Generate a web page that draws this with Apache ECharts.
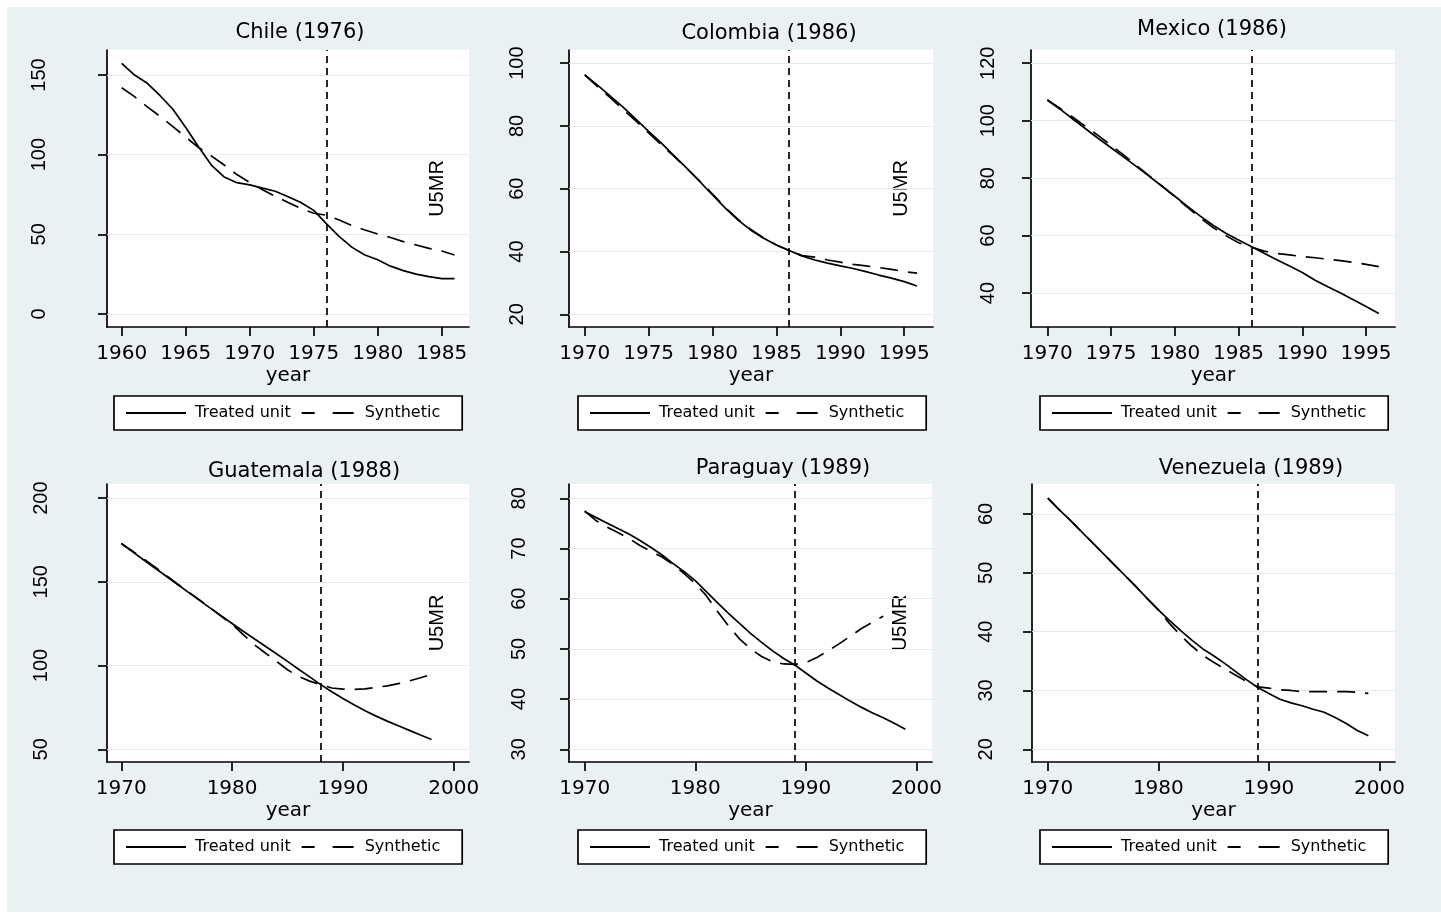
<!DOCTYPE html>
<html>
<head>
<meta charset="utf-8">
<title>U5MR: treated unit vs synthetic control</title>
<script src="https://cdn.jsdelivr.net/npm/echarts@6/dist/echarts.min.js"></script>
<style>
  html, body { margin: 0; padding: 0; background: #fff; }
  #wrap { position: relative; width: 1441px; height: 916px; }
  #bg { position: absolute; left: 7px; top: 7px; width: 1434px; height: 905px; background: #eaf1f3; }
  #chart { position: absolute; left: 0; top: 0; width: 1441px; height: 916px; }
</style>
</head>
<body>
<div id="wrap">
  <div id="bg"></div>
  <div id="chart"></div>
</div>
<script>
// panels in reading order
const countries = ['Chile', 'Colombia', 'Mexico', 'Guatemala', 'Paraguay', 'Venezuela']
const treatmentYears = [1976, 1986, 1986, 1988, 1989, 1989]

const chileYears = [1960, 1961, 1962, 1963, 1964, 1965, 1966, 1967, 1968, 1969, 1970, 1971, 1972, 1973,
  1974, 1975, 1976, 1977, 1978, 1979, 1980, 1981, 1982, 1983, 1984, 1985, 1986]
const chileTreated = [157.3, 150, 144.8, 137, 128.5, 117, 105, 93.5, 86, 82.4, 81, 79, 77, 73.6,
  70, 65, 56.5, 48.5, 41.8, 37, 34, 30, 27.2, 25, 23.4, 22.2, 22.2]
const chileSynthetic = [142, 136.4, 130, 124, 117.6, 111, 104.5, 99.2, 93.5, 87.5, 82.5, 78, 73.8, 70,
  66.3, 63.2, 62, 59, 55.4, 52.7, 50.2, 48, 45.4, 43.3, 41.2, 39.5, 37]
const chileXTicks = [1960, 1965, 1970, 1975, 1980, 1985]
const chileYTicks = [0, 50, 100, 150]

const colombiaYears = [1970, 1971, 1972, 1973, 1974, 1975, 1976, 1977, 1978, 1979, 1980, 1981, 1982, 1983,
  1984, 1985, 1986, 1987, 1988, 1989, 1990, 1991, 1992, 1993, 1994, 1995, 1996]
const colombiaTreated = [96.3, 93, 89.5, 86, 82.2, 78.3, 74.5, 70.5, 66.5, 62.3, 58, 53.8, 50, 46.8,
  44.2, 42.1, 40.3, 38.6, 37.3, 36.3, 35.4, 34.6, 33.6, 32.5, 31.5, 30.4, 29]
const colombiaSynthetic = [96.3, 92.5, 89, 85.3, 81.6, 77.8, 74, 70.3, 66.4, 62.4, 58.3, 54, 50.2, 47,
  44.3, 42.1, 40.3, 38.7, 38.2, 37.3, 36.6, 35.9, 35.4, 34.9, 34.3, 33.6, 33.1]
const colombiaXTicks = [1970, 1975, 1980, 1985, 1990, 1995]
const colombiaYTicks = [20, 40, 60, 80, 100]

const mexicoYears = [1970, 1971, 1972, 1973, 1974, 1975, 1976, 1977, 1978, 1979, 1980, 1981, 1982, 1983,
  1984, 1985, 1986, 1987, 1988, 1989, 1990, 1991, 1992, 1993, 1994, 1995, 1996]
const mexicoTreated = [107.2, 104, 100.6, 97.2, 93.8, 90.6, 87.3, 84, 80.6, 77.2, 73.7, 70.2, 66.8, 63.6,
  60.8, 58.5, 56.2, 53.9, 51.6, 49.4, 47.2, 44.5, 42.2, 40, 37.7, 35.3, 32.9]
const mexicoSynthetic = [107.2, 104.3, 101.2, 98, 94.8, 91.4, 88, 84.4, 80.8, 77.2, 73.5, 69.8, 66.2, 62.8,
  60, 57.5, 56, 54.6, 53.8, 53.3, 52.7, 52.3, 51.8, 51.3, 50.7, 50, 49.2]
const mexicoXTicks = [1970, 1975, 1980, 1985, 1990, 1995]
const mexicoYTicks = [40, 60, 80, 100, 120]

const guatemalaYears = [1970, 1971, 1972, 1973, 1974, 1975, 1976, 1977, 1978, 1979, 1980, 1981, 1982, 1983,
  1984, 1985, 1986, 1987, 1988, 1989, 1990, 1991, 1992, 1993, 1994, 1995, 1996, 1997, 1998]
const guatemalaTreated = [172.9, 168, 163.2, 158.4, 153.6, 148.8, 144, 139.2, 134.4, 129.7, 125.1, 120.5, 116, 111.5,
  107, 102.5, 97.8, 93.2, 88.6, 84.4, 80.3, 76.6, 73, 69.8, 66.8, 64, 61.3, 58.5, 55.8]
const guatemalaSynthetic = [172.9, 168.4, 163.8, 159, 154, 149, 144.2, 139.5, 134.6, 129.6, 124.6, 118.5, 112.5, 107.5,
  102.5, 97.5, 93.5, 90.7, 88.6, 86.6, 85.9, 85.7, 86.1, 86.9, 87.9, 89.2, 90.8, 92.7, 94.7]
const guatemalaXTicks = [1970, 1980, 1990, 2000]
const guatemalaYTicks = [50, 100, 150, 200]

const paraguayYears = [1970, 1971, 1972, 1973, 1974, 1975, 1976, 1977, 1978, 1979, 1980, 1981, 1982, 1983,
  1984, 1985, 1986, 1987, 1988, 1989, 1990, 1991, 1992, 1993, 1994, 1995, 1996, 1997, 1998, 1999]
const paraguayTreated = [77.3, 76.2, 75.1, 74, 72.9, 71.6, 70.2, 68.7, 67, 65.4, 63.6, 61.4, 59.2, 57.1,
  55.1, 53.1, 51.3, 49.6, 48.1, 46.8, 45.2, 43.6, 42.2, 40.9, 39.6, 38.4, 37.3, 36.3, 35.2, 34]
// the synthetic line stops short of the U5MR label (last value read ~1997)
const paraguaySynthetic = [77.5, 75.6, 74.3, 73.2, 72, 70.6, 69.4, 68.3, 66.8, 65, 63, 60.6, 57.5, 54.6,
  52, 50, 48.5, 47.4, 47, 46.9, 47.3, 48.3, 49.6, 51, 52.5, 54, 55.3, 56.5]
const paraguayXTicks = [1970, 1980, 1990, 2000]
const paraguayYTicks = [30, 40, 50, 60, 70, 80]

const venezuelaYears = [1970, 1971, 1972, 1973, 1974, 1975, 1976, 1977, 1978, 1979, 1980, 1981, 1982, 1983,
  1984, 1985, 1986, 1987, 1988, 1989, 1990, 1991, 1992, 1993, 1994, 1995, 1996, 1997, 1998, 1999]
const venezuelaTreated = [62.7, 60.8, 59, 57.1, 55.2, 53.3, 51.4, 49.5, 47.6, 45.6, 43.7, 41.9, 40.2, 38.6,
  37.1, 35.9, 34.6, 33.2, 31.8, 30.5, 29.5, 28.5, 27.9, 27.4, 26.8, 26.3, 25.4, 24.4, 23.2, 22.3]
const venezuelaSynthetic = [62.7, 60.8, 59, 57.1, 55.2, 53.3, 51.4, 49.5, 47.6, 45.6, 43.7, 41.4, 39.4, 37.6,
  36, 34.8, 33.7, 32.6, 31.5, 30.6, 30.4, 30.1, 30, 29.8, 29.8, 29.8, 29.8, 29.8, 29.7, 29.5]
const venezuelaXTicks = [1970, 1980, 1990, 2000]
const venezuelaYTicks = [20, 30, 40, 50, 60]

const allYears = [chileYears, colombiaYears, mexicoYears, guatemalaYears, paraguayYears, venezuelaYears]
const allTreated = [chileTreated, colombiaTreated, mexicoTreated, guatemalaTreated, paraguayTreated, venezuelaTreated]
const allSynthetic = [chileSynthetic, colombiaSynthetic, mexicoSynthetic, guatemalaSynthetic, paraguaySynthetic, venezuelaSynthetic]
const allXTicks = [chileXTicks, colombiaXTicks, mexicoXTicks, guatemalaXTicks, paraguayXTicks, venezuelaXTicks]
const allYTicks = [chileYTicks, colombiaYTicks, mexicoYTicks, guatemalaYTicks, paraguayYTicks, venezuelaYTicks]

// layout of each panel: plot box, axis extents, label gap, title / legend spots
const layout = [
  { box: [107, 50, 362, 277], x: [1958.85, 1987.13], y: [-8.2, 165.7], yGap: 58, title: [300, 22], legend: [114, 396], u5mr: true },
  { box: [569, 50, 364, 277], x: [1968.77, 1997.25], y: [15.95, 104.2], yGap: 42, title: [769, 23], legend: [578, 396], u5mr: true },
  { box: [1031, 50, 364, 277], x: [1968.72, 1997.27], y: [28.2, 124.6], yGap: 33, title: [1212, 19], legend: [1040, 396], u5mr: false },
  { box: [107, 484, 362, 278], x: [1968.71, 2001.38], y: [42.4, 208.4], yGap: 56, title: [304, 461], legend: [114, 830], u5mr: true },
  { box: [569, 484, 363, 278], x: [1968.58, 2001.41], y: [27.47, 82.85], yGap: 40, title: [783, 458], legend: [578, 830], u5mr: true },
  { box: [1032, 484, 363, 278], x: [1968.57, 2001.41], y: [17.84, 65.1], yGap: 36, title: [1251, 458], legend: [1040, 830], u5mr: false }
]

const black = '#000'
const axisLineStyle = { color: black, width: 1.7 }
const plain = v => String(v)

const grids = []
const xAxes = []
const yAxes = []
const series = []
const titles = []
const legends = []
const graphics = []

countries.forEach((country, i) => {
  const L = layout[i]
  const [left, top, width, height] = L.box
  const years = allYears[i]

  grids.push({ left, top, width, height, show: true, backgroundColor: '#fff', borderWidth: 0 })

  xAxes.push({
    gridIndex: i,
    type: 'value',
    min: L.x[0],
    max: L.x[1],
    name: 'year',
    nameLocation: 'middle',
    nameGap: 39,
    nameTextStyle: { fontFamily: 'DejaVu Sans', fontSize: 20, color: black },
    axisLine: { show: true, onZero: false, lineStyle: axisLineStyle },
    axisTick: { show: true, customValues: allXTicks[i], length: 9, lineStyle: axisLineStyle },
    axisLabel: {
      customValues: allXTicks[i],
      formatter: plain,
      margin: 17,
      fontFamily: 'DejaVu Sans',
      fontSize: 20,
      color: black
    },
    splitLine: { show: false }
  })

  yAxes.push({
    gridIndex: i,
    type: 'value',
    min: L.y[0],
    max: L.y[1],
    axisLine: { show: true, onZero: false, lineStyle: axisLineStyle },
    axisTick: { show: true, customValues: allYTicks[i], length: 9, lineStyle: axisLineStyle },
    axisLabel: {
      customValues: allYTicks[i],
      formatter: plain,
      rotate: 90,
      margin: L.yGap,
      fontFamily: 'Liberation Sans',
      fontSize: 20,
      color: black
    },
    splitLine: { show: false }
  })

  // faint horizontal grid lines at the y ticks
  series.push({
    type: 'line',
    name: country + ' grid',
    xAxisIndex: i,
    yAxisIndex: i,
    data: [],
    silent: true,
    z: 1,
    markLine: {
      silent: true,
      symbol: 'none',
      z: 1,
      animation: false,
      label: { show: false },
      lineStyle: { color: '#e2ecef', width: 1.2, type: 'solid' },
      data: allYTicks[i].map(v => ({ yAxis: v }))
    }
  })

  series.push({
    type: 'line',
    name: 'Synthetic',
    xAxisIndex: i,
    yAxisIndex: i,
    symbol: 'none',
    itemStyle: { color: black },
    lineStyle: { color: black, width: 1.7, type: [18, 10] },
    data: allSynthetic[i].map((v, k) => [years[k], v])
  })

  series.push({
    type: 'line',
    name: 'Treated unit',
    xAxisIndex: i,
    yAxisIndex: i,
    symbol: 'none',
    itemStyle: { color: black },
    lineStyle: { color: black, width: 1.7 },
    data: allTreated[i].map((v, k) => [years[k], v]),
    markLine: {
      silent: true,
      symbol: 'none',
      animation: false,
      label: { show: false },
      lineStyle: { color: black, width: 1.7, type: [7, 5] },
      data: [{ xAxis: treatmentYears[i] }]
    }
  })

  titles.push({
    text: country + ' (' + treatmentYears[i] + ')',
    left: L.title[0],
    top: L.title[1],
    textAlign: 'center',
    padding: 0,
    textStyle: { fontFamily: 'DejaVu Sans', fontSize: 21, fontWeight: 'normal', color: black }
  })

  legends.push({
    left: L.legend[0],
    top: L.legend[1],
    orient: 'horizontal',
    itemWidth: 60,
    itemHeight: 14,
    itemGap: 4,
    padding: [9, 22, 9, 11],
    backgroundColor: '#fff',
    borderColor: black,
    borderWidth: 1.7,
    borderRadius: 0,
    selectedMode: false,
    itemStyle: { opacity: 0 },
    textStyle: { fontFamily: 'DejaVu Sans', fontSize: 16, color: black, padding: [0, 0, 0, 4] },
    data: [
      { name: 'Treated unit' },
      { name: 'Synthetic', lineStyle: { type: [0, 6, 13, 18, 21, 100] } }
    ]
  })

  if (L.u5mr) {
    graphics.push({
      type: 'text',
      silent: true,
      x: left + width - 31.5,
      y: top + height / 2,
      rotation: Math.PI / 2,
      style: {
        text: 'U5MR',
        fontFamily: 'Liberation Sans',
        fontSize: 20,
        fill: black,
        align: 'center',
        verticalAlign: 'middle'
      }
    })
  }
})

const chart = echarts.init(document.getElementById('chart'), null, { renderer: 'canvas' })
chart.setOption({
  animation: false,
  title: titles,
  legend: legends,
  grid: grids,
  xAxis: xAxes,
  yAxis: yAxes,
  series: series,
  graphic: graphics
})
</script>
</body>
</html>
